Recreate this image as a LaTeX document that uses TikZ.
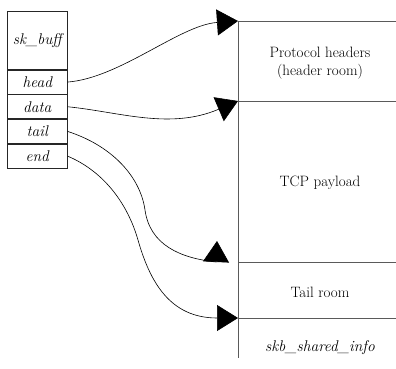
\documentclass[tikz,border=0pt]{standalone}
\usepackage{tikz}
\usetikzlibrary{arrows.meta,positioning}
\definecolor{framegray}{HTML}{5A5A5A}

\begin{document}
\begin{tikzpicture}[x=1pt,y=-1pt,
    field/.style={draw=black!85,line width=0.7pt,minimum width=60pt,minimum height=24pt,inner sep=0pt,font=\fontsize{15.5}{18}\selectfont\itshape},
    region/.style={font=\fontsize{15}{18}\selectfont,align=center},
    ptr/.style={line width=0.6pt,-{Triangle[length=21pt,width=26pt]}}]
    \useasboundingbox (0,0) rectangle (396,369);
    % sk_buff and its pointer fields
    \node[field,minimum height=58pt,anchor=north west] (skbuff) at (7,11) {sk\_buff};
    \node[field,below=0pt of skbuff] (ptrhead) {head};
    \node[field,below=0pt of ptrhead] (ptrdata) {data};
    \node[field,below=0pt of ptrdata] (ptrtail) {tail};
    \node[field,below=0pt of ptrtail] (ptrend) {end};
    % data buffer
    \coordinate (hdrtop) at (238,21);
    \coordinate (paytop) at (238,101);
    \coordinate (tailtop) at (238,262);
    \coordinate (shinfotop) at (238,318);
    \coordinate (tailtip) at (217,241);
    \draw[framegray,line width=0.8pt] (hdrtop) -- (238,358);
    \foreach \c in {hdrtop,paytop,tailtop,shinfotop}
      \draw[framegray,line width=0.8pt] (\c) -- ++(158,0);
    \node[region] (hdrtext) at (320,63) {Protocol headers\\(header room)};
    \node[region] (paytext) at (320,183) {TCP payload};
    \node[region] (tailtext) at (320,292) {Tail room};
    \node[region,font=\fontsize{15.5}{18}\selectfont\itshape] (shinfotext) at (320,348) {skb\_shared\_info};
    % pointers
    \draw[ptr] (ptrhead.east) .. controls (120,78) and (180,25) .. (hdrtop);
    \draw[ptr] (ptrdata.east) .. controls (120,112) and (170,130) .. (paytop);
    \draw[ptr] (ptrtail.east) .. controls (110,145) and (140,175) .. (145,210)
      .. controls (150,245) and (180,258) .. (216,262) -- (tailtip);
    \draw[ptr] (ptrend.east) .. controls (105,172) and (128,205) .. (138,240)
      .. controls (150,282) and (170,318) .. (shinfotop);
\end{tikzpicture}
\end{document}
